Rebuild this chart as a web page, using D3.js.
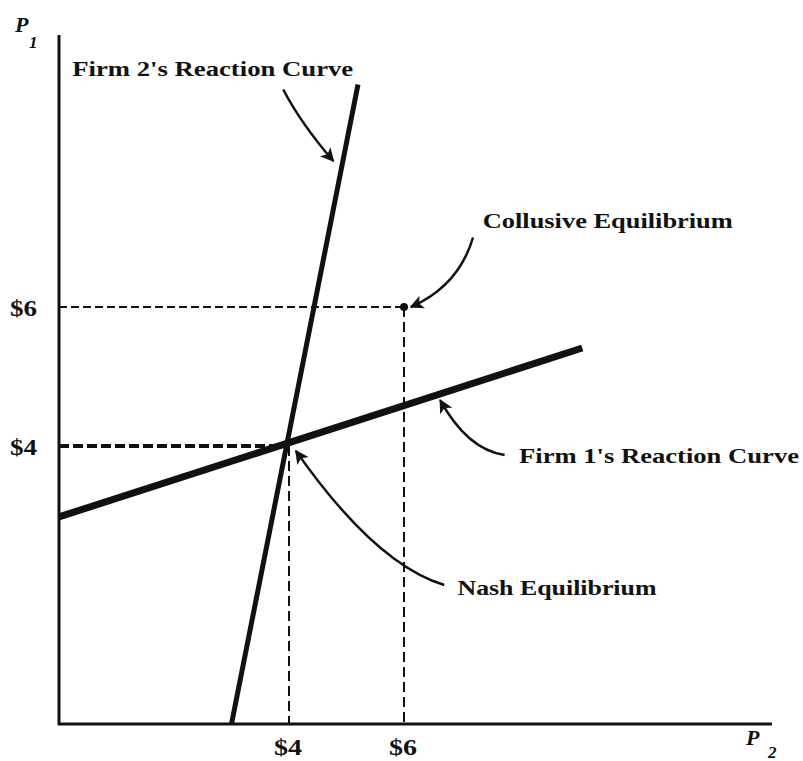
<!DOCTYPE html>
<html>
<head>
<meta charset="utf-8">
<script src="https://cdn.jsdelivr.net/npm/d3@7"></script>
<style>
  body { margin: 0; background: #fff; }
  svg text { font-family: "Liberation Serif", "Times New Roman", serif; font-weight: bold; fill: #111; }
</style>
</head>
<body>
<div id="chart"></div>
<script>
// reaction curves, [p2, p1]
const firm1Curve = [[0, 2.98], [9.1, 5.41]];
const firm2Curve = [[3.0, 0], [5.2, 9.2]];

const nash = [4, 4];
const collusive = [6, 6];

const xTicks = [4, 6];
const yTicks = [4, 6];
const tickLabels = ["$4", "$6"];

// annotation text + curved arrow (start, control, end) in data units
const annotations = [
  { text: "Firm 2's Reaction Curve", at: [0.23, 9.33], len: 281, from: [3.9, 9.13], ctrl: [4.2, 8.65], to: [4.77, 8.1] },
  { text: "Collusive Equilibrium", at: [7.37, 7.14], len: 250, from: [7.2, 7.0], ctrl: [6.95, 6.3], to: [6.12, 6.0] },
  { text: "Firm 1's Reaction Curve", at: [8.0, 3.76], len: 280, from: [7.75, 3.87], ctrl: [7.1, 3.95], to: [6.63, 4.66] },
  { text: "Nash Equilibrium", at: [6.93, 1.85], len: 199, from: [6.7, 2.0], ctrl: [5.5, 2.3], to: [4.12, 3.93] }
];

const width = 803, height = 761;
const x = d3.scaleLinear().domain([0, 12.4]).range([59, 772]);
const y = d3.scaleLinear().domain([0, 10]).range([724, 29]);

const svg = d3.select("#chart").append("svg")
  .attr("width", width)
  .attr("height", height);

svg.append("defs").append("marker")
  .attr("id", "arrow")
  .attr("viewBox", "0 0 10 10")
  .attr("refX", 9).attr("refY", 5)
  .attr("markerWidth", 5.5).attr("markerHeight", 5.5)
  .attr("markerUnits", "strokeWidth")
  .attr("orient", "auto")
  .append("path")
  .attr("d", "M0,0 L10,5 L0,10 L2.5,5 Z")
  .attr("fill", "#111");

// axes (plain lines, no ticks)
svg.append("line")
  .attr("x1", x(0)).attr("x2", x(0))
  .attr("y1", y(0) + 1).attr("y2", 35)
  .attr("stroke", "#111").attr("stroke-width", 3);
svg.append("line")
  .attr("x1", x(0) - 1).attr("x2", 772)
  .attr("y1", y(0)).attr("y2", y(0))
  .attr("stroke", "#111").attr("stroke-width", 3);

// dashed guide lines
const guides = [nash, collusive];
svg.append("g").selectAll("line.h")
  .data(guides)
  .join("line")
  .attr("x1", x(0)).attr("x2", d => x(d[0]))
  .attr("y1", d => y(d[1])).attr("y2", d => y(d[1]))
  .attr("stroke", "#111")
  .attr("stroke-width", (d, i) => i === 0 ? 4 : 2)
  .attr("stroke-dasharray", (d, i) => i === 0 ? "10,4" : "8,4");
svg.append("g").selectAll("line.v")
  .data(guides)
  .join("line")
  .attr("x1", d => x(d[0])).attr("x2", d => x(d[0]))
  .attr("y1", d => y(d[1])).attr("y2", y(0))
  .attr("stroke", "#111")
  .attr("stroke-width", 2)
  .attr("stroke-dasharray", "10,5");

// reaction curves
const line = d3.line().x(d => x(d[0])).y(d => y(d[1]));
svg.append("path").datum(firm1Curve)
  .attr("d", line)
  .attr("fill", "none").attr("stroke", "#111").attr("stroke-width", 7);
svg.append("path").datum(firm2Curve)
  .attr("d", line)
  .attr("fill", "none").attr("stroke", "#111").attr("stroke-width", 5);

// collusive point
svg.append("circle")
  .attr("cx", x(collusive[0])).attr("cy", y(collusive[1]))
  .attr("r", 4).attr("fill", "#111");

// tick labels
svg.append("g").selectAll("text")
  .data(yTicks)
  .join("text")
  .attr("x", 10)
  .attr("y", d => y(d) + 9)
  .attr("font-size", 24)
  .attr("textLength", 27)
  .attr("lengthAdjust", "spacingAndGlyphs")
  .text((d, i) => tickLabels[i]);
svg.append("g").selectAll("text")
  .data(xTicks)
  .join("text")
  .attr("x", d => x(d) - 15)
  .attr("y", 755)
  .attr("font-size", 24)
  .attr("textLength", 28)
  .attr("lengthAdjust", "spacingAndGlyphs")
  .text((d, i) => tickLabels[i]);

// axis titles
svg.append("text").attr("x", 15).attr("y", 32)
  .attr("font-size", 22).attr("font-style", "italic").text("P");
svg.append("text").attr("x", 29).attr("y", 48)
  .attr("font-size", 17).attr("font-style", "italic").text("1");

svg.append("text").attr("x", 746).attr("y", 745)
  .attr("font-size", 22).attr("font-style", "italic").text("P");
svg.append("text").attr("x", 768).attr("y", 758)
  .attr("font-size", 17).attr("font-style", "italic").text("2");

// annotations
const ann = svg.append("g").selectAll("g")
  .data(annotations)
  .join("g");
ann.append("text")
  .attr("x", d => x(d.at[0]))
  .attr("y", d => y(d.at[1]))
  .attr("font-size", 21)
  .attr("textLength", d => d.len)
  .attr("lengthAdjust", "spacingAndGlyphs")
  .text(d => d.text);
ann.append("path")
  .attr("d", d => {
    const p = d3.path();
    p.moveTo(x(d.from[0]), y(d.from[1]));
    p.quadraticCurveTo(x(d.ctrl[0]), y(d.ctrl[1]), x(d.to[0]), y(d.to[1]));
    return p.toString();
  })
  .attr("fill", "none")
  .attr("stroke", "#111")
  .attr("stroke-width", 2.5)
  .attr("marker-end", "url(#arrow)");
</script>
</body>
</html>
